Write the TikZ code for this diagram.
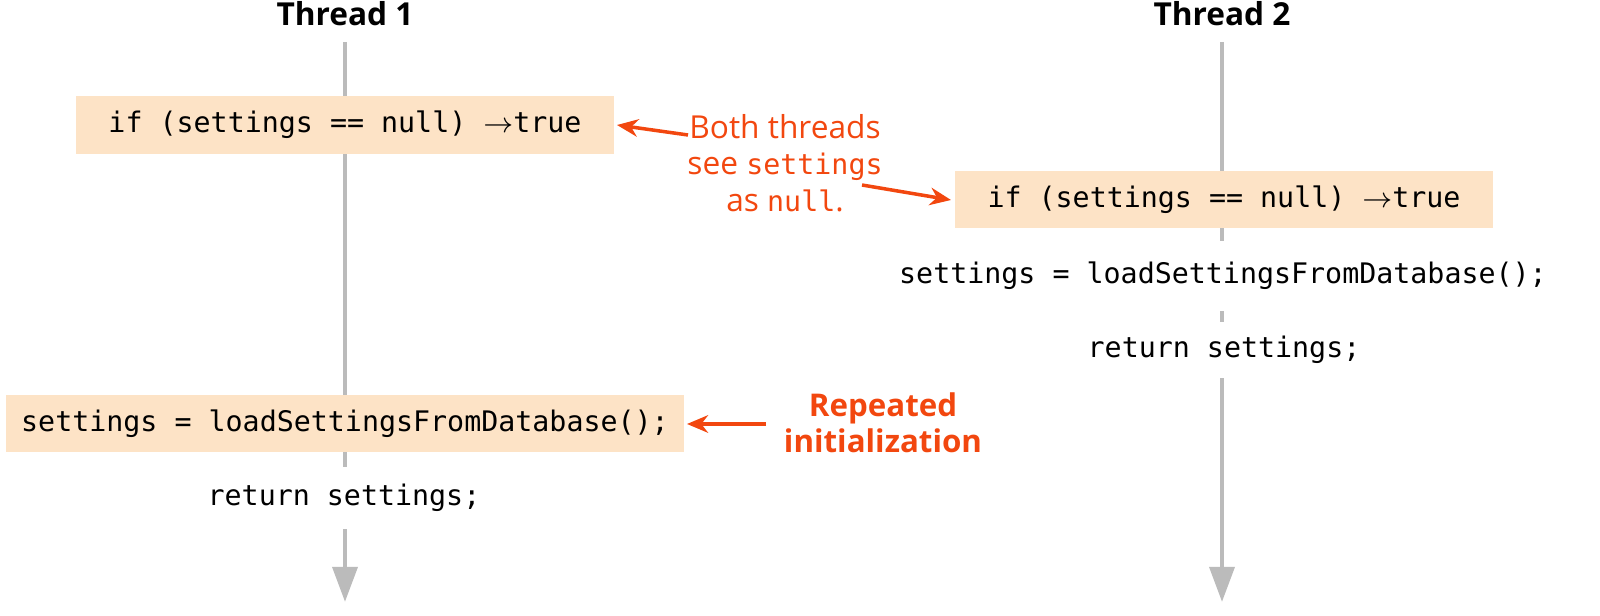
\documentclass[tikz,border=0pt]{standalone}
\usepackage{fontspec}
\setmainfont{Open Sans}
\newfontfamily\codefont{DejaVu Sans Mono}
\usetikzlibrary{arrows.meta}
\definecolor{boxc}{HTML}{FDE3C6}
\definecolor{orng}{HTML}{F2470F}
\definecolor{lgray}{HTML}{BBBBBB}
\begin{document}
\begin{tikzpicture}[x=0.01cm,y=-0.01cm,
  code/.style={font=\codefont\fontsize{8.05pt}{9pt}\selectfont, text=black, inner sep=0pt},
  box/.style={fill=boxc, inner sep=0pt},
  plain/.style={code, fill=white, inner xsep=0pt, inner ysep=8pt},
  note/.style={font=\fontsize{9pt}{10.3pt}\selectfont, text=orng, align=center},
  thread/.style={draw=lgray, line width=1.4pt, -{Triangle[length=10pt,width=7pt]}},
  oarrow/.style={draw=orng, line width=1pt, -{Stealth[length=6pt,width=5pt]}}]
\useasboundingbox (0,0) rectangle (1600,616);
\node[font=\bfseries\fontsize{9pt}{9pt}\selectfont] (t1) at (345,14) {Thread 1};
\node[font=\bfseries\fontsize{9pt}{9pt}\selectfont] (t2) at (1222,14) {Thread 2};
\coordinate (s1) at (345,42); \coordinate (e1) at (345,602);
\coordinate (s2) at (1222,42); \coordinate (e2) at (1222,602);
\draw[thread] (s1) -- (e1);
\draw[thread] (s2) -- (e2);
\node[plain, inner ysep=6pt] (l2) at (1223,276) {settings = loadSettingsFromDatabase();};
\node[plain, inner ysep=4pt] (r2) at (1224,350) {return settings;};
\node[plain, inner ysep=5pt] (r1) at (344,498) {return settings;};
\node[box, minimum width=5.38cm, minimum height=0.58cm] (b1) at (345,125) {};
\node[code] at (b1) {if (settings == null) $\rightarrow$true};
\node[box, minimum width=5.38cm, minimum height=0.57cm] (b2) at (1224,199.5) {};
\node[code] at (b2) {if (settings == null) $\rightarrow$true};
\node[box, minimum width=6.78cm, minimum height=0.57cm] (b3) at (345,423.5) {};
\node[code] at (b3) {settings = loadSettingsFromDatabase();};
\node[note, font=\fontsize{9pt}{10.3pt}\selectfont] (n1) at (785,163) {Both threads\\see {\codefont\fontsize{8.05pt}{9pt}\selectfont settings}\\as {\codefont\fontsize{8.05pt}{9pt}\selectfont null}.};
\node[note, font=\bfseries\fontsize{8.9pt}{10.3pt}\selectfont] (n2) at (883,423) {Repeated\\initialization};
\coordinate (a1) at (688,135); \coordinate (a1e) at (617,125);
\coordinate (a2) at (862,185); \coordinate (a2e) at (951,200);
\coordinate (a3) at (766,424); \coordinate (a3e) at (687,424);
\draw[oarrow] (a1) -- (a1e);
\draw[oarrow] (a2) -- (a2e);
\draw[oarrow] (a3) -- (a3e);
\end{tikzpicture}
\end{document}
